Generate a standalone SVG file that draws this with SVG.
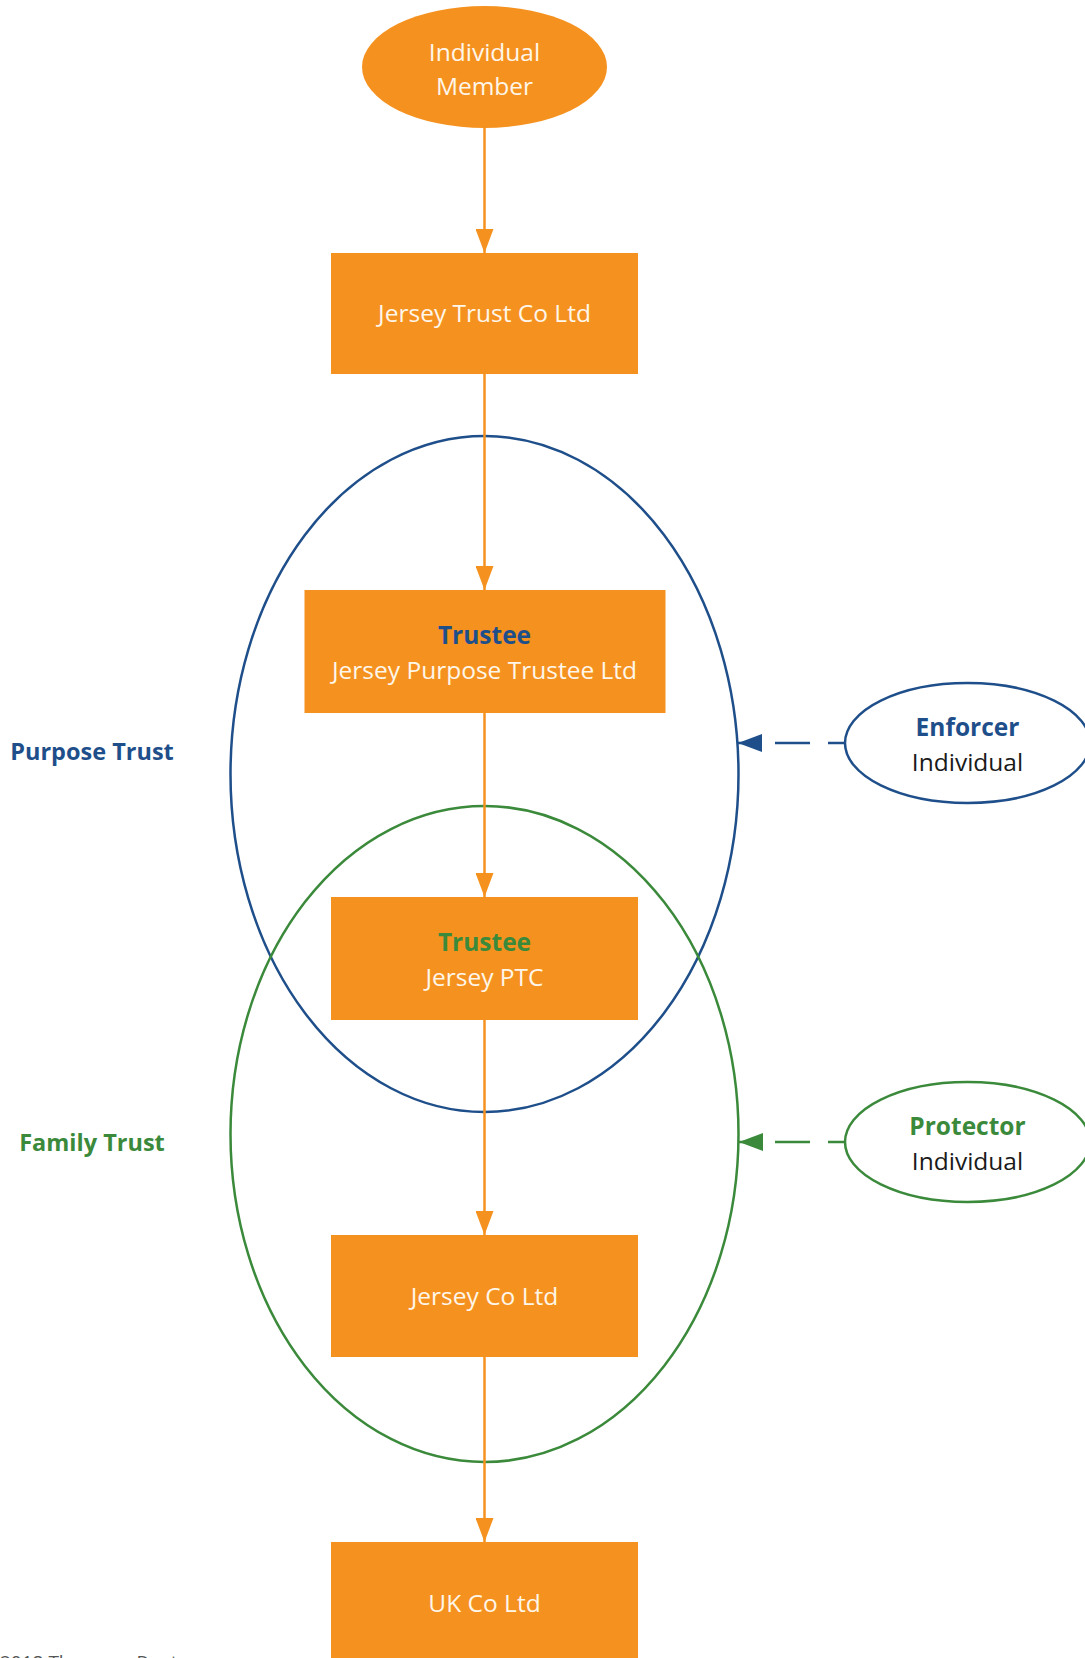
<svg xmlns="http://www.w3.org/2000/svg" width="1085" height="1658" viewBox="0 0 1085 1658">
<style>
.box{fill:#f5921f;}
.t{font-family:"Open Sans","Liberation Sans",sans-serif;font-size:24.5px;text-anchor:middle;fill:#fff6ea;}
.b{font-weight:bold;}
.blue{fill:#1f4f8a;}
.green{fill:#3b8a3b;}
.dark{fill:#1a1a1a;}
.lbl{font-family:"Open Sans","Liberation Sans",sans-serif;font-size:23.5px;font-weight:bold;text-anchor:middle;}
.conn{stroke:#f5921f;stroke-width:2.5;fill:none;}
.dash{stroke-width:2.5;fill:none;stroke-dasharray:35 18;stroke-dashoffset:18;}
</style>
<defs>
<marker id="arrO" viewBox="0 0 24 18" refX="24" refY="9" markerWidth="24" markerHeight="18" markerUnits="userSpaceOnUse" orient="auto"><path d="M0,0 L24,9 L0,18 z" fill="#f5921f"/></marker>
<marker id="arrB" viewBox="0 0 24 18" refX="24" refY="9" markerWidth="24" markerHeight="18" markerUnits="userSpaceOnUse" orient="auto"><path d="M0,0 L24,9 L0,18 z" fill="#1f4f8a"/></marker>
<marker id="arrG" viewBox="0 0 24 18" refX="24" refY="9" markerWidth="24" markerHeight="18" markerUnits="userSpaceOnUse" orient="auto"><path d="M0,0 L24,9 L0,18 z" fill="#3b8a3b"/></marker>
</defs>

<g id="purpose-trust">
<ellipse cx="484.5" cy="774" rx="254" ry="338" fill="none" stroke="#1f4f8a" stroke-width="2.5"/>
<text class="lbl blue" x="92" y="760">Purpose Trust</text>
</g>
<g id="family-trust">
<ellipse cx="484.5" cy="1134" rx="254" ry="328" fill="none" stroke="#3b8a3b" stroke-width="2.5"/>
<text class="lbl green" x="92" y="1151">Family Trust</text>
</g>

<g id="connectors">
<path class="conn" d="M484.5,128 V253" marker-end="url(#arrO)"/>
<path class="conn" d="M484.5,374 V590" marker-end="url(#arrO)"/>
<path class="conn" d="M484.5,713 V897" marker-end="url(#arrO)"/>
<path class="conn" d="M484.5,1020 V1235" marker-end="url(#arrO)"/>
<path class="conn" d="M484.5,1357 V1542" marker-end="url(#arrO)"/>
<path class="dash" stroke="#1f4f8a" d="M845,743 H738" marker-end="url(#arrB)"/>
<path class="dash" stroke="#3b8a3b" d="M845,1142 H739" marker-end="url(#arrG)"/>
</g>

<g id="individual-member">
<ellipse cx="484.5" cy="67" rx="122.5" ry="61" class="box"/>
<text class="t" x="484.5" y="61">Individual</text>
<text class="t" x="484.5" y="95">Member</text>
</g>
<g id="jersey-trust-co">
<rect class="box" x="331" y="253" width="307" height="121"/>
<text class="t" x="484.5" y="322">Jersey Trust Co Ltd</text>
</g>
<g id="jersey-purpose-trustee">
<rect class="box" x="304.5" y="590" width="361" height="123"/>
<text class="t b blue" x="484.5" y="644">Trustee</text>
<text class="t" x="484.5" y="679">Jersey Purpose Trustee Ltd</text>
</g>
<g id="jersey-ptc">
<rect class="box" x="331" y="897" width="307" height="123"/>
<text class="t b green" x="484.5" y="951">Trustee</text>
<text class="t" x="484.5" y="986">Jersey PTC</text>
</g>
<g id="jersey-co">
<rect class="box" x="331" y="1235" width="307" height="122"/>
<text class="t" x="484.5" y="1305">Jersey Co Ltd</text>
</g>
<g id="uk-co">
<rect class="box" x="331" y="1542" width="307" height="130"/>
<text class="t" x="484.5" y="1612">UK Co Ltd</text>
</g>
<g id="enforcer">
<ellipse cx="967.5" cy="743" rx="122.5" ry="60" fill="#fff" stroke="#1f4f8a" stroke-width="2.5"/>
<text class="t b blue" x="967.5" y="736">Enforcer</text>
<text class="t dark" x="967.5" y="771">Individual</text>
</g>
<g id="protector">
<ellipse cx="967.5" cy="1142" rx="122.5" ry="60" fill="#fff" stroke="#3b8a3b" stroke-width="2.5"/>
<text class="t b green" x="967.5" y="1135">Protector</text>
<text class="t dark" x="967.5" y="1170">Individual</text>
</g>

<text x="0" y="1669" font-family="Open Sans, Liberation Sans, sans-serif" font-size="19" fill="#555">2018 Thomson Reuters</text>
</svg>
